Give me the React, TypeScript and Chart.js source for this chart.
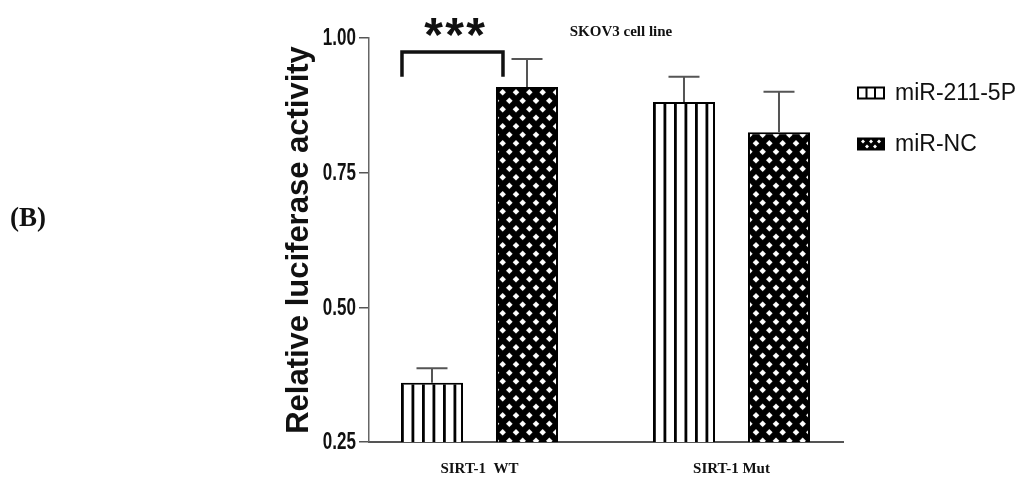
import React, { useEffect, useRef } from 'react';
import { Chart, registerables } from 'chart.js';

Chart.register(...registerables);

// ---- data ----
const categories = ['SIRT-1  WT', 'SIRT-1 Mut'];
const seriesNames = ['miR-211-5P', 'miR-NC'];
const mir211Values = [0.36, 0.881];
const mir211Errors = [0.027, 0.047];
const mirNCValues = [0.909, 0.825];
const mirNCErrors = [0.052, 0.075];
const yTicks = [0.25, 0.5, 0.75, 1.0];
const yMin = 0.25;
const yMax = 1.0;
const chartTitle = 'SKOV3 cell line';
const panelLabel = '(B)';
const yAxisTitle = 'Relative luciferase activity';
const significanceText = ['*', '*', '*'];
const bracketTopValue = 0.974;
const bracketLegValue = 0.928;

const W = 1025;
const H = 482;

function makeStripePattern(ctx: CanvasRenderingContext2D) {
  const c = document.createElement('canvas');
  c.width = 21;
  c.height = 8;
  const g = c.getContext('2d')!;
  g.fillStyle = '#ffffff';
  g.fillRect(0, 0, 21, 8);
  g.fillStyle = '#000000';
  g.fillRect(0, 0, 2.8, 8);
  g.fillRect(10.5, 0, 2.8, 8);
  return ctx.createPattern(c, 'repeat')!;
}

function makeDotPattern(ctx: CanvasRenderingContext2D) {
  const c = document.createElement('canvas');
  c.width = 40;
  c.height = 17;
  const g = c.getContext('2d')!;
  g.fillStyle = '#000000';
  g.fillRect(0, 0, 40, 17);
  g.fillStyle = '#ffffff';
  const pts: [number, number][] = [
    [6.67, 4.25], [20, 4.25], [33.33, 4.25],
    [0, 12.75], [13.33, 12.75], [26.67, 12.75], [40, 12.75],
  ];
  const r = 3.3;
  for (const [x, y] of pts) {
    g.beginPath();
    g.moveTo(x, y - r);
    g.lineTo(x + r, y);
    g.lineTo(x, y + r);
    g.lineTo(x - r, y);
    g.closePath();
    g.fill();
  }
  return ctx.createPattern(c, 'repeat')!;
}

export default function App() {
  const canvasRef = useRef<HTMLCanvasElement | null>(null);

  useEffect(() => {
    const canvas = canvasRef.current!;
    const ctx = canvas.getContext('2d')!;
    const stripe = makeStripePattern(ctx);
    const dots = makeDotPattern(ctx);
    const errors = [mir211Errors, mirNCErrors];

    const annotationPlugin = {
      id: 'annotations',
      beforeDatasetsDraw(chart: any) {
        const m0 = chart.getDatasetMeta(0).data[0];
        const m1 = chart.getDatasetMeta(1).data[0];
        if (m0 && (stripe as any).setTransform) {
          stripe.setTransform(new DOMMatrix([1, 0, 0, 1, m0.x - m0.width / 2, 0]));
        }
        if (m1 && (dots as any).setTransform) {
          dots.setTransform(new DOMMatrix([1, 0, 0, 1, m1.x - m1.width / 2, m1.y + 1]));
        }
      },
      afterDatasetsDraw(chart: any) {
        const c = chart.ctx;
        const ys = chart.scales.y;
        // error bars (upper only)
        c.save();
        c.strokeStyle = '#555555';
        c.lineWidth = 2;
        chart.data.datasets.forEach((ds: any, di: number) => {
          const meta = chart.getDatasetMeta(di);
          meta.data.forEach((bar: any, j: number) => {
            const v = ds.data[j];
            const top = ys.getPixelForValue(v + errors[di][j]);
            c.beginPath();
            c.moveTo(bar.x, bar.y);
            c.lineTo(bar.x, top);
            c.moveTo(bar.x - 15.5, top);
            c.lineTo(bar.x + 15.5, top);
            c.stroke();
          });
        });
        c.restore();

        // significance bracket
        const b0 = chart.getDatasetMeta(0).data[0];
        const b1 = chart.getDatasetMeta(1).data[0];
        const xl = b0.x - b0.width / 2 + 1;
        const xr = b1.x - b1.width / 2 + 7;
        const yt = ys.getPixelForValue(bracketTopValue);
        const yl = ys.getPixelForValue(bracketLegValue);
        c.save();
        c.strokeStyle = '#111111';
        c.lineWidth = 3.5;
        c.lineJoin = 'miter';
        c.beginPath();
        c.moveTo(xl, yl);
        c.lineTo(xl, yt);
        c.lineTo(xr, yt);
        c.lineTo(xr, yl);
        c.stroke();
        c.fillStyle = '#111111';
        c.font = 'bold 48px "Liberation Sans", Arial, sans-serif';
        c.textAlign = 'center';
        c.textBaseline = 'alphabetic';
        const mid = (xl + xr) / 2 + 2;
        significanceText.forEach((s, i) => {
          c.fillText(s, mid + (i - 1) * 21, yt - 1);
        });
        c.restore();
      },
      afterDraw(chart: any) {
        const c = chart.ctx;
        const ys = chart.scales.y;
        c.save();
        // y tick labels (condensed bold)
        c.fillStyle = '#111111';
        c.font = 'bold 23px "Liberation Sans", Arial, sans-serif';
        c.textAlign = 'right';
        c.textBaseline = 'middle';
        ys.ticks.forEach((t: any, i: number) => {
          const y = ys.getPixelForTick(i);
          c.save();
          c.translate(ys.right - 13, y + 1);
          c.scale(0.74, 1);
          c.fillText(t.label, 0, 0);
          c.restore();
        });
        // chart title
        c.font = 'bold 15px "Liberation Serif", "Times New Roman", serif';
        c.textAlign = 'center';
        c.textBaseline = 'middle';
        c.fillText(chartTitle, 621, 32);
        // panel label
        c.font = 'bold 27px "Liberation Serif", "Times New Roman", serif';
        c.textAlign = 'left';
        c.fillText(panelLabel, 10, 219);
        // legend
        const lx = 858;
        const rows = [93, 144];
        c.font = '23px "Liberation Sans", Arial, sans-serif';
        chart.data.datasets.forEach((ds: any, i: number) => {
          const cy = rows[i];
          const bx = lx, by = cy - 5.5, bw = 26, bh = 11;
          if (i === 0) {
            c.fillStyle = '#ffffff';
            c.fillRect(bx, by, bw, bh);
            c.strokeStyle = '#000000';
            c.lineWidth = 2;
            c.strokeRect(bx, by, bw, bh);
            c.beginPath();
            c.moveTo(bx + 8.5, by);
            c.lineTo(bx + 8.5, by + bh);
            c.moveTo(bx + 17, by);
            c.lineTo(bx + 17, by + bh);
            c.stroke();
          } else {
            c.fillStyle = '#000000';
            c.fillRect(bx - 1, by - 1, bw + 2, bh + 2);
            c.fillStyle = '#ffffff';
            for (const [dx, dy] of [[5, 3], [13, 3], [21, 3], [9, 8], [17, 8]]) {
              c.beginPath();
              c.moveTo(bx + dx, by + dy - 2);
              c.lineTo(bx + dx + 2, by + dy);
              c.lineTo(bx + dx, by + dy + 2);
              c.lineTo(bx + dx - 2, by + dy);
              c.closePath();
              c.fill();
            }
          }
          c.fillStyle = '#111111';
          c.textAlign = 'left';
          c.textBaseline = 'middle';
          c.fillText(ds.label, 895, cy + 1);
        });
        c.restore();
      },
    };

    const chart = new Chart(canvas, {
      type: 'bar',
      data: {
        labels: categories,
        datasets: [
          {
            label: seriesNames[0],
            data: mir211Values,
            backgroundColor: stripe as any,
            borderColor: '#000000',
            borderWidth: 2,
          },
          {
            label: seriesNames[1],
            data: mirNCValues,
            backgroundColor: dots as any,
            borderColor: '#000000',
            borderWidth: 2,
          },
        ],
      },
      options: {
        responsive: false,
        animation: false,
        devicePixelRatio: 1,
        datasets: {
          bar: {
            categoryPercentage: 0.754,
            barPercentage: 0.653,
          },
        },
        layout: { padding: { left: 270, right: 182, top: 38, bottom: 0 } },
        plugins: {
          legend: { display: false },
          tooltip: { enabled: false },
          title: { display: false },
        },
        scales: {
          x: {
            grid: { display: false, drawTicks: false },
            border: { display: true, color: '#555555', width: 2 },
            ticks: {
              color: '#111111',
              padding: 18,
              font: { family: '"Liberation Serif", "Times New Roman", serif', size: 15, weight: 'bold' },
            },
            afterFit: (scale: any) => {
              scale.height = 40;
            },
            afterBuildTicks: (scale: any) => {
              scale._startValue = -0.4385;
              scale._valueRange = 1.881;
            },
          },
          y: {
            min: yMin,
            max: yMax,
            grid: { drawOnChartArea: false, drawTicks: true, tickLength: 10, color: '#555555', lineWidth: 1.5 },
            border: { display: true, color: '#666666', width: 1.5 },
            ticks: {
              display: false,
              callback: (v: any) => Number(v).toFixed(2),
            },
            afterBuildTicks: (scale: any) => {
              scale.ticks = yTicks.map((v) => ({ value: v }));
            },
            afterFit: (scale: any) => {
              scale.width = 99;
            },
            title: {
              display: true,
              text: yAxisTitle,
              color: '#111111',
              padding: { top: 11, bottom: 0 },
              font: { family: '"Liberation Sans", Arial, sans-serif', size: 31, weight: 'bold' },
            },
          },
        },
      },
      plugins: [annotationPlugin],
    });

    return () => {
      chart.destroy();
    };
  }, []);

  return (
    <div style={{ position: 'fixed', left: 0, top: 0, width: W, height: H, background: '#ffffff' }}>
      <canvas ref={canvasRef} width={W} height={H} style={{ display: 'block', width: W, height: H }} />
    </div>
  );
}
